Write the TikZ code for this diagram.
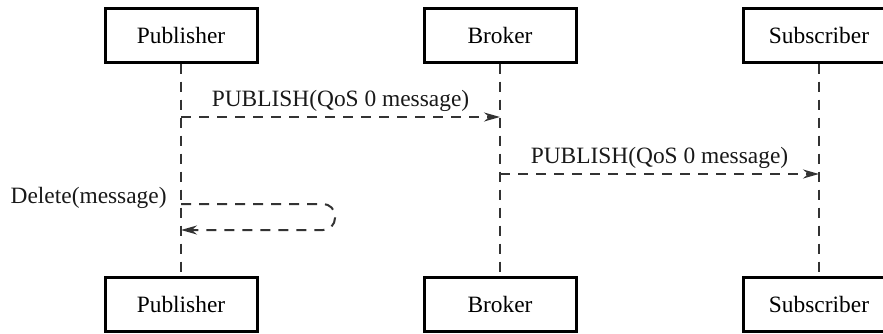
\documentclass[tikz,border=0pt]{standalone}
\usepackage{fontspec}
\setmainfont{Liberation Serif}
\usetikzlibrary{arrows.meta}
\tikzset{
  actor/.style={draw,line width=1.5pt,minimum width=76pt,minimum height=27pt,inner sep=0pt},
  life/.style={line width=1pt,black!80,dash pattern=on 5pt off 4pt},
  msg/.style={life,-{Stealth[length=8pt,width=4.5pt]}},
  msglabel/.style={above,inner sep=2pt,text=black!90}
}
\begin{document}
\begin{tikzpicture}[x=0.5pt,y=-0.5pt,font=\fontsize{11.7}{14}\selectfont]
  \useasboundingbox (0,0) rectangle (883,333);
  \clip (0,0) rectangle (883,333);
  % lifelines with their heads and feet
  \foreach \n/\t/\x in {pub/Publisher/181,brk/Broker/500,sub/Subscriber/819} {
    \node[actor] (\n Top) at (\x,35) {\t};
    \node[actor] (\n Bot) at (\x,304.5) {\t};
    \draw[life] (\n Top) -- (\n Bot);
  }
  \coordinate (p1) at (181,117);
  \coordinate (b1) at (500,117);
  \coordinate (b2) at (500,174);
  \coordinate (s2) at (819,174);
  \coordinate (d1) at (181,204);
  \coordinate (d2) at (181,230);
  \draw[msg] (p1) -- node[msglabel] {PUBLISH(QoS 0 message)} (b1);
  \draw[msg] (b2) -- node[msglabel] {PUBLISH(QoS 0 message)} (s2);
  \draw[msg,rounded corners=6pt] (d1) -- (335,204) -- (335,230) -- (d2);
  \node[anchor=east,inner sep=0pt,text=black!90] (del) at (167,198) {Delete(message)};
\end{tikzpicture}
\end{document}
